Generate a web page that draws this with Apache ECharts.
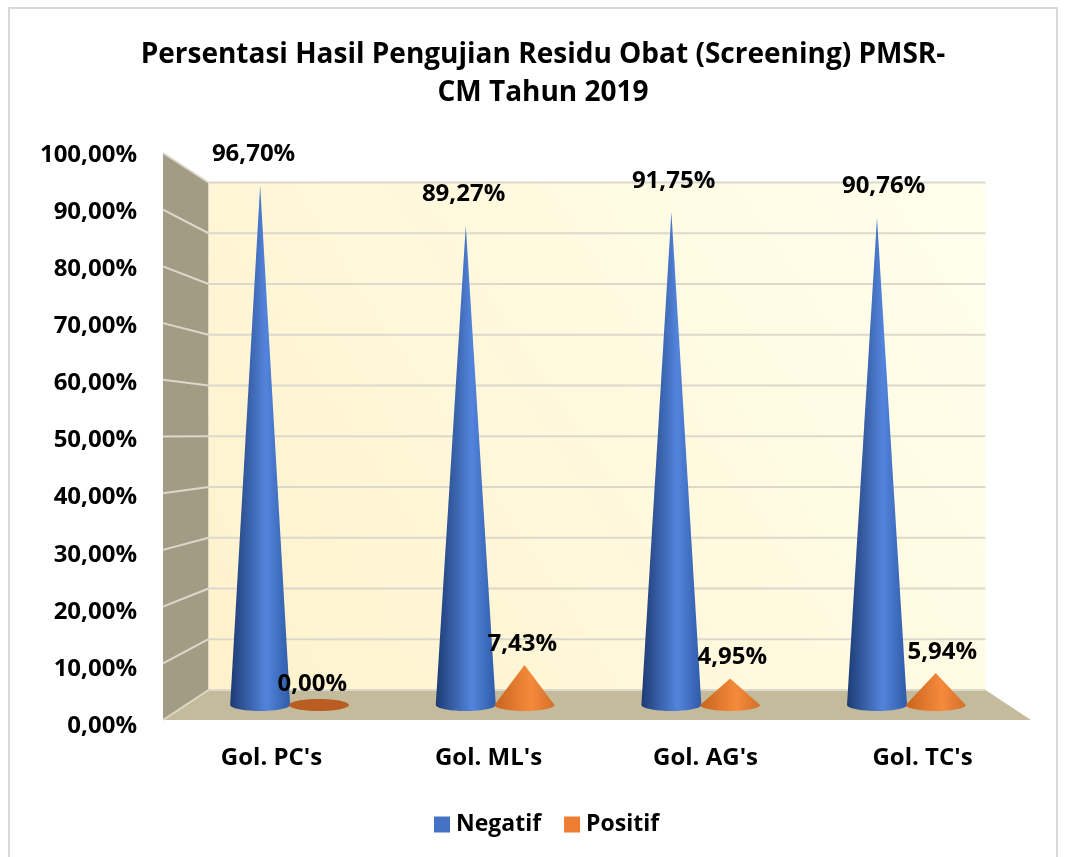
<!DOCTYPE html>
<html>
<head>
<meta charset="utf-8">
<title>PMSR-CM 2019</title>
<style>
    html, body { margin: 0; padding: 0; background: #fff; }
    #chart { width: 1065px; height: 857px; }
</style>
</head>
<body>
<div id="chart"></div>
<script src="https://cdn.jsdelivr.net/npm/echarts@6/dist/echarts.min.js"></script>
<script>
    const titleText = "Persentasi Hasil Pengujian Residu Obat (Screening) PMSR-\nCM Tahun 2019";
    const categories = ["Gol. PC's", "Gol. ML's", "Gol. AG's", "Gol. TC's"];
    const negatif = [96.70, 89.27, 91.75, 90.76];
    const positif = [0.00, 7.43, 4.95, 5.94];
    const yTicks = [0, 10, 20, 30, 40, 50, 60, 70, 80, 90, 100];

    const FONT = '"Open Sans", sans-serif';
    const fmt = v => v.toFixed(2).replace('.', ',') + '%';

    // fake 3D: everything is scaled towards a vanishing point
    const VP = [597, 434];
    const project = (p, depth) => {
        const s = 1 - 0.105 * depth;
        return [VP[0] + (p[0] - VP[0]) * s, VP[1] + (p[1] - VP[1]) * s];
    };

    function renderWalls(params, api) {
        const cs = params.coordSys;
        const fl = cs.x, fr = cs.x + cs.width;
        const fb = api.coord([0, 0])[1], ft = api.coord([0, 100])[1];
        const backLB = project([fl, fb], 1), backLT = project([fl, ft], 1);
        const backRB = project([fr, fb], 1), backRT = project([fr, ft], 1);
        const poly = (points, fill) => ({type: 'polygon', shape: {points}, style: {fill}, silent: true});
        const children = [
            poly([[fl, ft], backLT, backLB, [fl, fb]], '#a39c84'),
            poly([backLT, backRT, backRB, backLB], new echarts.graphic.LinearGradient(0, 1, 1, 0, [
                {offset: 0, color: '#fff2cc'},
                {offset: 1, color: '#ffffee'}
            ])),
            poly([[fl, fb], backLB, backRB, [fr, fb]], '#c4ba9c')
        ];
        yTicks.forEach(t => {
            const y = api.coord([0, t])[1];
            const a = project([fl, y], 1), b = project([fr, y], 1);
            const style = {stroke: '#dcd8cb', lineWidth: 2};
            children.push({type: 'line', shape: {x1: fl, y1: y, x2: a[0], y2: a[1]}, style, silent: true});
            children.push({type: 'line', shape: {x1: a[0], y1: a[1], x2: b[0], y2: b[1]}, style, silent: true});
        });
        return {type: 'group', children};
    }

    function coneRenderer(offset, stops, flatColor, labelGap) {
        return function (params, api) {
            const i = api.value(0), v = api.value(1);
            const base = api.coord([i, 0]), top = api.coord([i, v]);
            const b = project([base[0] + offset, base[1]], 0.5);
            const t = project([base[0] + offset, top[1]], 0.5);
            const rx = 30, ry = 6;
            const children = [];
            if (v > 0) {
                const pts = [[t[0], t[1]]];
                for (let a = 0; a <= 180; a += 10) {
                    const r = a * Math.PI / 180;
                    pts.push([b[0] + rx * Math.cos(r), b[1] + ry * Math.sin(r)]);
                }
                children.push({
                    type: 'polygon', shape: {points: pts},
                    style: {fill: new echarts.graphic.LinearGradient(0, 0, 1, 0, stops)}
                });
            } else {
                children.push({type: 'ellipse', shape: {cx: b[0], cy: b[1], rx: rx, ry: ry}, style: {fill: flatColor}});
            }
            children.push({
                type: 'text', z2: 10,
                style: {
                    x: t[0] + (i - 1.5) * 4.4, y: t[1] - labelGap,
                    text: fmt(v), fill: '#000', font: 'bold 24px ' + FONT,
                    align: 'center', verticalAlign: 'middle'
                }
            });
            return {type: 'group', children};
        };
    }

    const myChart = echarts.init(document.getElementById('chart'));
    const option = {
        animation: false,
        backgroundColor: '#fff',
        graphic: [{
            type: 'rect', z: -10, silent: true,
            shape: {x: 9, y: 8, width: 1048, height: 870},
            style: {fill: 'none', stroke: '#d9d9d9', lineWidth: 2}
        }],
        title: {
            text: titleText, left: 538, top: 31, textAlign: 'center',
            textStyle: {fontFamily: FONT, fontWeight: 'bold', fontSize: 28, lineHeight: 38, color: '#000'}
        },
        legend: {
            left: 429, top: 808, itemWidth: 16, itemHeight: 16, itemGap: 23,
            icon: 'rect',
            data: [
                {name: 'Negatif', itemStyle: {color: '#4472c4'}},
                {name: 'Positif', itemStyle: {color: '#ed7d31'}}
            ],
            textStyle: {fontFamily: FONT, fontWeight: 'bold', fontSize: 23, color: '#000', padding: [0, 0, 0, 1]}
        },
        // grid 0 holds the marks, grid 1 only carries the tick labels (their spacing is a bit wider in the original)
        grid: [
            {left: 163, top: 153, width: 868, height: 567},
            {left: 163, top: 155, width: 868, height: 571}
        ],
        xAxis: [
            {
                type: 'category', data: categories, gridIndex: 0,
                axisLine: {show: false}, axisTick: {show: false},
                axisLabel: {margin: 26, color: '#000', fontFamily: FONT, fontWeight: 'bold', fontSize: 24}
            },
            {type: 'category', data: categories, gridIndex: 1, show: false}
        ],
        yAxis: [
            {type: 'value', min: 0, max: 100, interval: 10, gridIndex: 0, show: false},
            {
                type: 'value', min: 0, max: 100, interval: 10, gridIndex: 1,
                axisLine: {show: false}, axisTick: {show: false}, splitLine: {show: false},
                axisLabel: {margin: 26, color: '#000', fontFamily: FONT, fontWeight: 'bold', fontSize: 24, formatter: fmt}
            }
        ],
        series: [
            {
                name: 'walls', type: 'custom', silent: true, z: 1,
                data: [[0, 0]], clip: false, renderItem: renderWalls
            },
            {
                name: 'Negatif', type: 'custom', z: 2, clip: false,
                itemStyle: {color: '#4472c4'},
                data: negatif.map((v, i) => [i, v]),
                renderItem: coneRenderer(-30, [
                    {offset: 0, color: '#1d3b74'},
                    {offset: 0.6, color: '#5384dc'},
                    {offset: 1, color: '#2f5ca8'}
                ], '#2f5ca8', 31)
            },
            {
                name: 'Positif', type: 'custom', z: 3, clip: false,
                itemStyle: {color: '#ed7d31'},
                data: positif.map((v, i) => [i, v]),
                renderItem: coneRenderer(32, [
                    {offset: 0, color: '#c8641e'},
                    {offset: 0.6, color: '#f58a3c'},
                    {offset: 1, color: '#d2702a'}
                ], '#b95d22', 21)
            }
        ]
    };
    myChart.setOption(option);
</script>
</body>
</html>
